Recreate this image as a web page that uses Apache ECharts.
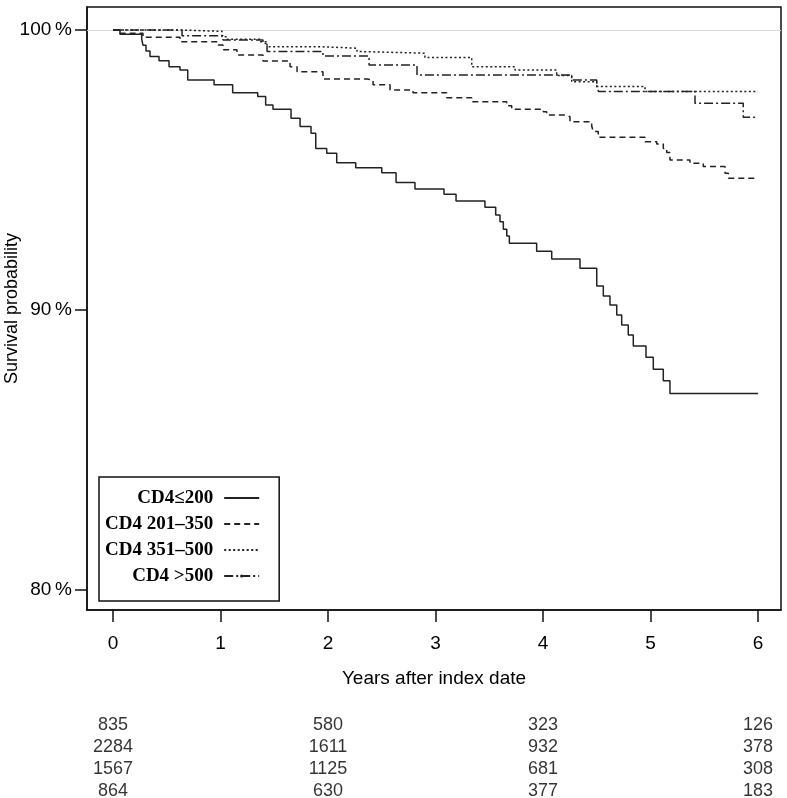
<!DOCTYPE html>
<html>
<head>
<meta charset="utf-8">
<script src="https://cdn.jsdelivr.net/npm/echarts@6.0.0/dist/echarts.min.js"></script>
<style>html,body{margin:0;padding:0;background:#fff}#c{width:787px;height:798px}</style>
</head>
<body>
<div id="c"></div>
<script>
// Kaplan-Meier steps: time (years) and survival (%)
const names = ['CD4≤200', 'CD4 201–350', 'CD4 351–500', 'CD4 >500'];

const t200 = [0, 0.065, 0.267, 0.279, 0.307, 0.344, 0.428, 0.521, 0.623, 0.695, 0.94, 1.113, 1.346, 1.42, 1.488, 1.656, 1.74, 1.842, 1.886, 1.988, 2.081, 2.258, 2.5, 2.633, 2.809, 3.079, 3.191, 3.46, 3.56, 3.6, 3.631, 3.663, 3.687, 3.941, 4.081, 4.344, 4.5, 4.561, 4.623, 4.686, 4.732, 4.793, 4.84, 4.958, 5.026, 5.119, 5.181, 6.0];
const s200 = [100, 99.85, 99.67, 99.45, 99.25, 99.05, 98.9, 98.69, 98.57, 98.21, 98.04, 97.76, 97.62, 97.32, 97.17, 96.85, 96.55, 96.31, 95.77, 95.6, 95.26, 95.08, 94.9, 94.55, 94.32, 94.13, 93.89, 93.67, 93.39, 93.15, 92.88, 92.64, 92.38, 92.1, 91.82, 91.49, 90.86, 90.5, 90.18, 89.82, 89.46, 89.11, 88.71, 88.31, 87.88, 87.47, 87.02, 87.02];

const t201 = [0, 0.065, 0.279, 0.623, 0.977, 1.023, 1.153, 1.395, 1.647, 1.712, 1.953, 2.363, 2.419, 2.577, 2.791, 3.104, 3.337, 3.662, 3.709, 4.003, 4.034, 4.22, 4.251, 4.453, 4.468, 4.514, 4.949, 5.058, 5.119, 5.151, 5.181, 5.367, 5.491, 5.693, 5.724, 6.0];
const s201 = [100, 99.88, 99.74, 99.58, 99.46, 99.29, 99.11, 98.89, 98.69, 98.51, 98.25, 98.21, 98.04, 97.86, 97.76, 97.58, 97.44, 97.29, 97.17, 97.08, 96.96, 96.9, 96.72, 96.57, 96.37, 96.17, 96.01, 95.93, 95.77, 95.62, 95.36, 95.24, 95.12, 94.88, 94.7, 94.7];

const t351 = [0, 0.623, 1.014, 1.06, 1.367, 1.433, 1.926, 2.27, 2.298, 2.902, 3.337, 3.74, 4.127, 4.267, 4.5, 4.949, 6.0];
const s351 = [100, 99.95, 99.76, 99.67, 99.58, 99.4, 99.35, 99.23, 99.17, 99.02, 98.69, 98.57, 98.37, 98.15, 97.98, 97.8, 97.8];

const t500 = [0, 0.642, 1.023, 1.395, 1.433, 1.953, 2.382, 2.828, 4.267, 4.5, 4.516, 5.414, 5.863, 6.0];
const s500 = [100, 99.79, 99.64, 99.52, 99.23, 99.07, 98.75, 98.39, 98.21, 98.0, 97.8, 97.38, 96.88, 96.88];

// Number at risk table
const riskYears = [0, 2, 4, 6];
const risk200 = [835, 580, 323, 126];
const risk201 = [2284, 1611, 932, 378];
const risk351 = [1567, 1125, 681, 308];
const risk500 = [864, 630, 377, 183];

const xTicks = [0, 1, 2, 3, 4, 5, 6];
const yTicks = [80, 90, 100];

const pair = (t, s) => t.map((v, i) => [v, s[i]]);
const lineCol = '#222';
const dashTypes = ['solid', [6, 4], [2, 2.5], [9, 3, 2, 3]];
const series = [];
[[t200, s200], [t201, s201], [t351, s351], [t500, s500]].forEach((d, i) => {
  const s = {
    name: names[i], type: 'line', step: 'end', symbol: i === 3 ? 'circle' : 'none', showSymbol: false,
    xAxisIndex: 0, yAxisIndex: 0,
    data: pair(d[0], d[1]),
    lineStyle: { color: lineCol, width: 1.5, type: dashTypes[i] },
    itemStyle: { color: lineCol },
    silent: true, animation: false, z: 5
  };
  if (i === 0) {
    s.markLine = { silent: true, symbol: 'none', label: { show: false },
      lineStyle: { color: '#d8d8d8', width: 1, type: 'solid' }, data: [{ yAxis: 100 }], animation: false };
  }
  series.push(s);
});
[risk200, risk201, risk351, risk500].forEach((r, row) => {
  series.push({
    type: 'scatter', xAxisIndex: 1, yAxisIndex: 1, symbolSize: 0, silent: true, animation: false,
    data: riskYears.map((y, k) => [y, row, r[k]]),
    label: { show: true, position: 'inside', formatter: p => p.value[2], color: '#000', fontSize: 18, fontFamily: 'Liberation Sans, Arial, sans-serif' }
  });
});

const chart = echarts.init(document.getElementById('c'), null, { renderer: 'canvas' });
chart.setOption({
  backgroundColor: '#fff',
  animation: false,
  textStyle: { fontFamily: 'Liberation Sans, Arial, sans-serif' },
  grid: [
    { left: 87, top: 7, width: 694, height: 603, show: true, borderColor: '#111', borderWidth: 1.5, backgroundColor: 'transparent', containLabel: false, outerBoundsMode: 'none' },
    { left: 87, top: 714, width: 694, height: 88, containLabel: false, outerBoundsMode: 'none' }
  ],
  legend: {
    data: names.map((n, i) => ({ name: n, itemStyle: i === 3 ? { color: lineCol } : { opacity: 0 } })),
    orient: 'vertical', align: 'right', left: 99, top: 477,
    itemWidth: 35, itemHeight: 4, itemGap: 4,
    borderColor: '#111', borderWidth: 1.5, padding: [10, 19, 14, 6],
    textStyle: { fontFamily: 'Liberation Serif, Times New Roman, serif', fontWeight: 'bold', fontSize: 19, color: '#000', lineHeight: 22, padding: [0, 6, 0, 0] },
    selectedMode: false
  },
  xAxis: [
    { type: 'value', gridIndex: 0, min: -0.242, max: 6.214,
      name: 'Years after index date', nameLocation: 'middle', nameGap: 59, nameMoveOverlap: false,
      nameTextStyle: { fontSize: 19, color: '#000' },
      axisLine: { show: true, onZero: false, lineStyle: { color: '#111', width: 1.5 } },
      axisTick: { show: true, customValues: xTicks, length: 12, lineStyle: { color: '#111', width: 1.5 } },
      axisLabel: { customValues: xTicks, margin: 24, fontSize: 19, color: '#000' },
      splitLine: { show: false } },
    { type: 'value', gridIndex: 1, min: -0.242, max: 6.214, show: false }
  ],
  yAxis: [
    { type: 'value', gridIndex: 0, min: 79.286, max: 100.82,
      name: 'Survival probability', nameLocation: 'middle', nameGap: 66, nameRotate: 90, nameMoveOverlap: false,
      nameTextStyle: { fontSize: 18, color: '#000' },
      axisLine: { show: true, onZero: false, lineStyle: { color: '#111', width: 1.5 } },
      axisTick: { show: true, customValues: yTicks, length: 12, lineStyle: { color: '#111', width: 1.5 } },
      axisLabel: { customValues: yTicks, margin: 15, fontSize: 19, color: '#000', formatter: v => v + '\u2009%' },
      splitLine: { show: false } },
    { type: 'category', gridIndex: 1, inverse: true, data: ['a', 'b', 'c', 'd'], show: false }
  ],
  series: series
});
</script>
</body>
</html>
